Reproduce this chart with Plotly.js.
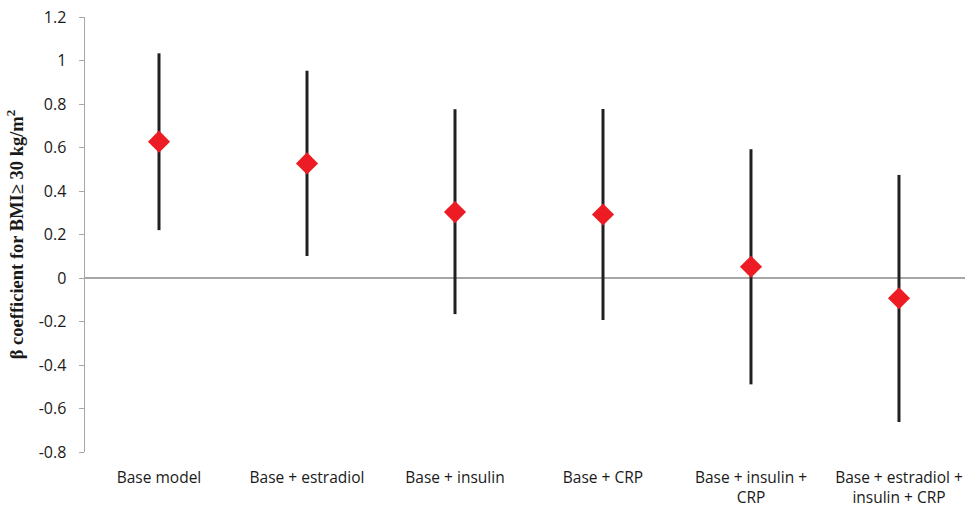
<!DOCTYPE html>
<html>
<head>
<meta charset="utf-8">
<script src="https://cdn.plot.ly/plotly-3.0.1.min.js"></script>
<style>html,body{margin:0;padding:0;background:#fff;}#chart{width:965px;height:513px;}</style>
</head>
<body>
<div id="chart"></div>
<script>
const categories = ["Base model", "Base + estradiol", "Base + insulin", "Base + CRP", "Base + insulin +<br>CRP", "Base + estradiol +<br>insulin + CRP"];
const beta = [0.627, 0.527, 0.303, 0.292, 0.052, -0.093];
const lower = [0.22, 0.101, -0.166, -0.193, -0.489, -0.662];
const upper = [1.033, 0.953, 0.776, 0.777, 0.592, 0.474];
const yTicks = [-0.8, -0.6, -0.4, -0.2, 0, 0.2, 0.4, 0.6, 0.8, 1, 1.2];
const yTickLabels = ["-0.8", "-0.6", "-0.4", "-0.2", "0", "0.2", "0.4", "0.6", "0.8", "1", "1.2"];

const xIdx = categories.map((c, i) => i);
const trace = {
  type: "scatter",
  mode: "markers",
  x: xIdx,
  y: beta,
  marker: {symbol: "diamond", size: 17, color: "#ed1c24", line: {width: 0}},
  error_y: {
    type: "data",
    symmetric: false,
    array: upper.map((u, i) => u - beta[i]),
    arrayminus: beta.map((b, i) => b - lower[i]),
    color: "#231f20",
    thickness: 3,
    width: 0
  },
  hoverinfo: "skip",
  showlegend: false
};

const layout = {
  width: 965,
  height: 513,
  margin: {l: 85, r: 0, t: 17, b: 61},
  paper_bgcolor: "#fff",
  plot_bgcolor: "#fff",
  font: {family: "Open Sans, sans-serif", color: "#1a1a1a"},
  xaxis: {
    range: [-0.5, 5.446],
    tickmode: "array",
    tickvals: xIdx,
    ticktext: categories,
    showgrid: false,
    zeroline: false,
    showline: false,
    ticks: "",
    ticklabelstandoff: 14,
    tickfont: {size: 15.5, family: "Open Sans, sans-serif", color: "#1a1a1a"},
    fixedrange: true
  },
  yaxis: {
    range: [-0.8, 1.2],
    tickmode: "array",
    tickvals: yTicks,
    ticktext: yTickLabels,
    showgrid: false,
    zeroline: true,
    zerolinecolor: "#a6a6a6",
    zerolinewidth: 1.5,
    showline: true,
    linecolor: "#a6a6a6",
    linewidth: 1.5,
    ticks: "outside",
    ticklen: 5,
    tickcolor: "#a6a6a6",
    tickwidth: 1,
    ticklabelstandoff: 9,
    tickfont: {size: 16, family: "Open Sans, sans-serif", color: "#1a1a1a"},
    title: {
      text: "β coefficient for BMI≥ 30 kg/m<sup>2</sup>",
      font: {size: 18.5, family: "Liberation Serif, serif", color: "#1a1a1a", weight: "bold"},
      standoff: 10
    },
    fixedrange: true
  }
};

Plotly.newPlot("chart", [trace], layout, {displayModeBar: false, staticPlot: true});
</script>
</body>
</html>
